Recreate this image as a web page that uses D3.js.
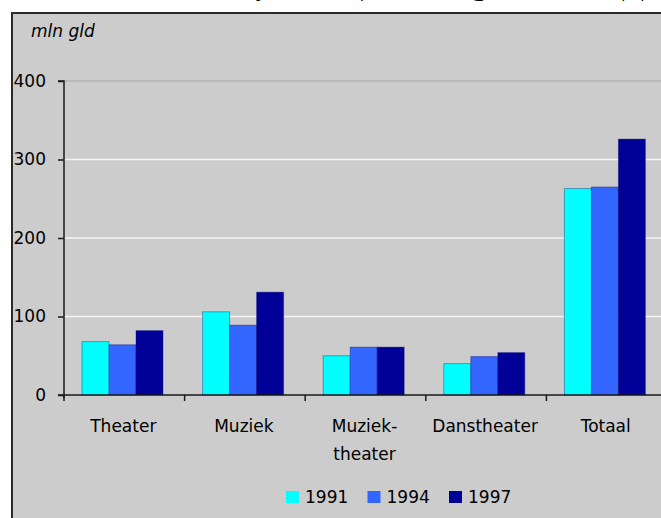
<!DOCTYPE html>
<html>
<head>
<meta charset="utf-8">
<script src="https://cdn.jsdelivr.net/npm/d3@7"></script>
<style>
  html, body { margin: 0; padding: 0; background: #ffffff; }
  svg { display: block; }
  text { font-family: "DejaVu Sans", Verdana, sans-serif; fill: #000; }
</style>
</head>
<body>
<svg id="chart" width="661" height="518"></svg>
<script>
// Subsidies per discipline, mln gld
const categories = [["Theater"], ["Muziek"], ["Muziek-", "theater"], ["Danstheater"], ["Totaal"]];
const years = ["1991", "1994", "1997"];
const values1991 = [68, 106, 50, 40, 263];
const values1994 = [64, 89, 61, 49, 265];
const values1997 = [82, 131, 61, 54, 326];
const yTicks = [0, 100, 200, 300, 400];
const colors = ["#00ffff", "#3366ff", "#000099"];
const unitLabel = "mln gld";
const titleText = "Subsidie rijk aan podiumgezelschappen";

const series = [values1991, values1994, values1997];

const svg = d3.select("#chart");

// title sits above the framed chart, running off the top of the page
svg.append("text")
  .attr("x", 100).attr("y", -5)
  .attr("font-size", 30).attr("font-weight", 200)
  .text(titleText);

// chart frame
svg.append("rect")
  .attr("x", 12).attr("y", 13).attr("width", 700).attr("height", 600)
  .attr("fill", "#cccccc").attr("stroke", "#2a2a2a").attr("stroke-width", 2);

const catKeys = categories.map(c => c.join(""));
const x0 = d3.scaleBand().domain(catKeys).range([64, 64 + 5 * 120.6]).padding(0);
const x1 = d3.scaleBand().domain(years).range([18, 99]).padding(0);
const y = d3.scaleLinear().domain([0, 400]).range([395, 81]);

// gridlines
svg.append("g").selectAll("line").data(yTicks.filter(t => t > 0)).join("line")
  .attr("x1", 64).attr("x2", 661)
  .attr("y1", d => y(d)).attr("y2", d => y(d))
  .attr("stroke", d => d === 400 ? "#a6a6a6" : "#f4f4f4")
  .attr("stroke-width", d => d === 400 ? 1 : 1.5);

// bars
const groups = svg.append("g").selectAll("g").data(catKeys).join("g")
  .attr("transform", d => `translate(${x0(d)},0)`);
groups.selectAll("rect")
  .data((d, i) => years.map((yr, s) => ({ yr, s, v: series[s][i] })))
  .join("rect")
  .attr("x", d => x1(d.yr))
  .attr("width", x1.bandwidth())
  .attr("y", d => y(d.v))
  .attr("height", d => y(0) - y(d.v))
  .attr("fill", d => colors[d.s])
  .attr("stroke", "rgba(0,0,110,0.35)")
  .attr("stroke-width", 1);

// y axis
const yAxis = d3.axisLeft(y).tickValues(yTicks).tickSize(6).tickPadding(12).tickFormat(d3.format("d"));
const yg = svg.append("g").attr("transform", "translate(64,0)").call(yAxis);
yg.select(".domain").attr("stroke", "#1a1a1a").attr("stroke-width", 1.5)
  .attr("d", `M-6,${y(400)}H0V${y(0) + 3}`);
yg.selectAll(".tick line").attr("stroke", "#1a1a1a").attr("stroke-width", 1.5);
yg.selectAll(".tick text").attr("font-size", 17).attr("font-family", "DejaVu Sans").attr("fill", "#000");

// x axis with boundary ticks between categories
const xg = svg.append("g").attr("transform", `translate(0,${y(0)})`);
xg.append("line").attr("x1", 58).attr("x2", 661).attr("y1", 0).attr("y2", 0)
  .attr("stroke", "#1a1a1a").attr("stroke-width", 1.5);
xg.selectAll("line.tk").data(catKeys.concat(["end"])).join("line").attr("class", "tk")
  .attr("x1", (d, i) => i < catKeys.length ? x0(d) : x0.range()[1])
  .attr("x2", (d, i) => i < catKeys.length ? x0(d) : x0.range()[1])
  .attr("y1", 0).attr("y2", 6)
  .attr("stroke", "#1a1a1a").attr("stroke-width", 1.5);

// category labels
const lbl = svg.append("g").selectAll("text").data(categories).join("text")
  .attr("font-size", 17)
  .attr("text-anchor", "middle")
  .attr("transform", (d, i) => `translate(${x0(catKeys[i]) + x0.bandwidth() / 2 - 1},432)`);
lbl.selectAll("tspan").data(d => d).join("tspan")
  .attr("x", 0).attr("dy", (d, i) => i === 0 ? 0 : 28)
  .text(d => d);

// unit label
svg.append("text").attr("x", 31).attr("y", 37)
  .attr("font-size", 17).attr("font-style", "italic")
  .text(unitLabel);

// legend
const leg = svg.append("g").selectAll("g").data(years).join("g")
  .attr("transform", (d, i) => `translate(${286 + i * 81.5},491)`);
leg.append("rect").attr("width", 13).attr("height", 12)
  .attr("fill", (d, i) => colors[i]);
leg.append("text").attr("x", 19).attr("y", 12).attr("font-size", 17).text(d => d);
</script>
</body>
</html>
